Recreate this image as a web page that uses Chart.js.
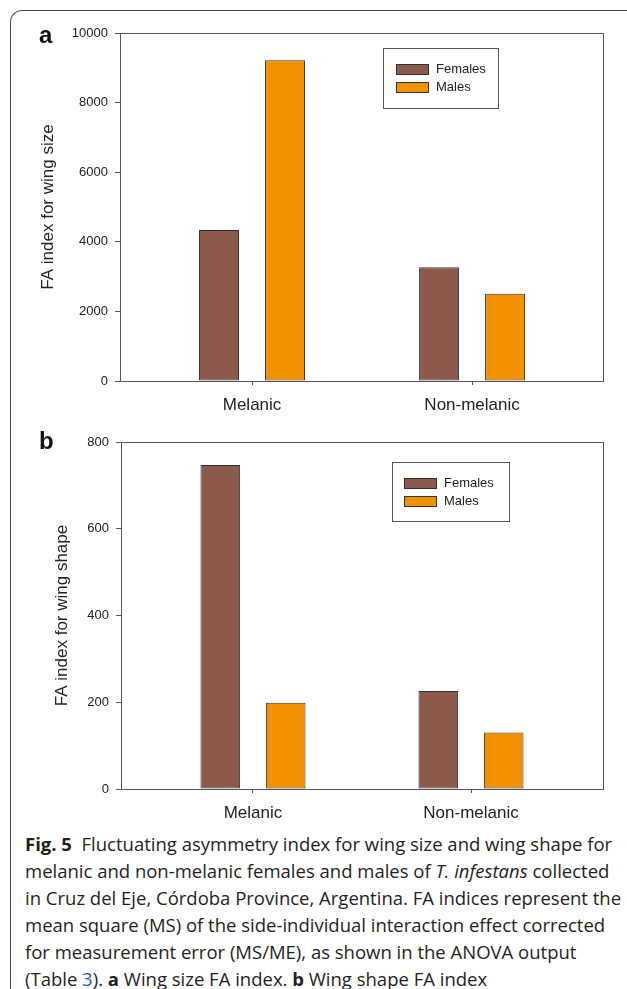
<!DOCTYPE html>
<html>
<head>
<meta charset="utf-8">
<script src="https://cdn.jsdelivr.net/npm/chart.js@4/dist/chart.umd.min.js"></script>
<style>
  body { margin: 0; background: #fff; width: 627px; height: 989px; overflow: hidden; position: relative; }
  #frame { position: absolute; left: 10px; top: 10px; width: 660px; height: 1000px;
           border-left: 1px solid #444; border-top: 1px solid #444; border-top-left-radius: 12px; }
  canvas { position: absolute; left: 0; }
  .panel { position: absolute; left: 39px; font: bold 24px "Liberation Sans", Arial, sans-serif; color: #111; }
  #caption { position: absolute; left: 25px; top: 830px; font-family: "Open Sans", sans-serif;
             font-size: 18.5px; line-height: 27px; color: #231f20; white-space: nowrap; }
  #caption a { color: #2a5db0; text-decoration: none; }
</style>
</head>
<body>
<div id="frame"></div>
<canvas id="chartA" width="627" height="425" style="top:0"></canvas>
<canvas id="chartB" width="627" height="405" style="top:425px"></canvas>
<div class="panel" style="top:21px">a</div>
<div class="panel" style="top:427px">b</div>
<div id="caption">
  <b>Fig. 5</b>&nbsp; Fluctuating asymmetry index for wing size and wing shape for<br>
  melanic and non-melanic females and males of <i>T. infestans</i> collected<br>
  in Cruz del Eje, Córdoba Province, Argentina. FA indices represent the<br>
  mean square (MS) of the side-individual interaction effect corrected<br>
  for measurement error (MS/ME), as shown in the ANOVA output<br>
  (Table <a>3</a>). <b>a</b> Wing size FA index. <b>b</b> Wing shape FA index
</div>
<script>
// Chart data
const categories = ['Melanic', 'Non-melanic'];
const seriesNames = ['Females', 'Males'];
const seriesColors = ['#8c5a4a', '#f39200'];

const sizeFemales = [4340, 3270];
const sizeMales = [9220, 2510];
const sizeTicks = { max: 10000, step: 2000 };

const shapeFemales = [747, 226];
const shapeMales = [199, 130];
const shapeTicks = { max: 800, step: 200 };

const FONT = '"Liberation Sans", Arial, sans-serif';

// Plot frame (all four sides) and the boxed legend
const framePlugin = {
    id: 'plotFrame',
    afterDatasetsDraw(chart, args, opts) {
        const ctx = chart.ctx;
        const a = chart.chartArea;
        ctx.save();
        ctx.strokeStyle = '#555';
        ctx.lineWidth = 1;
        ctx.strokeRect(Math.round(a.left) + 0.5, Math.round(a.top) + 0.5,
            Math.round(a.right - a.left), Math.round(a.bottom - a.top));

        // legend box
        const x = Math.round(a.left + opts.x), y = Math.round(a.top + opts.y);
        ctx.strokeRect(x + 0.5, y + 0.5, opts.w, opts.h);
        chart.data.datasets.forEach((ds, i) => {
            const sy = y + 16 + i * 18;
            ctx.fillStyle = ds.backgroundColor;
            ctx.fillRect(x + opts.sx, sy, 32, 10);
            ctx.strokeStyle = '#333';
            ctx.strokeRect(x + opts.sx + 0.5, sy + 0.5, 32, 10);
            ctx.fillStyle = '#222';
            ctx.font = '13px ' + FONT;
            ctx.textBaseline = 'middle';
            ctx.textAlign = 'left';
            ctx.fillText(ds.label, x + opts.tx, sy + 5.5);
        });
        ctx.restore();
    }
};

function makeDatasets(females, males) {
    return [females, males].map((vals, i) => ({
        label: seriesNames[i],
        data: vals.map((v, j) => ({ x: j + 1, y: v })),
        backgroundColor: seriesColors[i],
        borderColor: '#333',
        borderWidth: 1,
        borderSkipped: false,
        categoryPercentage: 0.6,
        barPercentage: 0.606
    }));
}

function createPanel(canvasId, females, males, yInfo, yTitle, layout) {
    const ctx = document.getElementById(canvasId).getContext('2d');
    return new Chart(ctx, {
        type: 'bar',
        data: { datasets: makeDatasets(females, males) },
        plugins: [framePlugin],
        options: {
            responsive: false,
            animation: false,
            layout: { padding: { top: layout.top, right: 24, left: 0, bottom: 0 } },
            plugins: {
                legend: { display: false },
                tooltip: { enabled: false },
                plotFrame: layout.legend
            },
            scales: {
                x: {
                    type: 'linear',
                    offset: false,
                    min: layout.xMin,
                    max: layout.xMax,
                    afterBuildTicks: scale => {
                        scale.ticks = categories.map((c, i) => ({ value: i + 1 }));
                    },
                    afterFit: scale => { scale.height = layout.xHeight; },
                    ticks: {
                        callback: v => categories[Math.round(v) - 1],
                        font: { family: FONT, size: 17 },
                        color: '#222',
                        padding: 10,
                        maxRotation: 0,
                        autoSkip: false
                    },
                    grid: { offset: false, drawOnChartArea: false, tickLength: 4, color: '#555' },
                    border: { color: '#555' }
                },
                y: {
                    min: 0,
                    max: yInfo.max,
                    afterFit: scale => { scale.width = layout.yWidth; },
                    ticks: {
                        stepSize: yInfo.step,
                        callback: v => String(v),
                        font: { family: FONT, size: 13 },
                        color: '#222',
                        padding: 7
                    },
                    grid: { drawOnChartArea: false, tickLength: 5, color: '#555' },
                    border: { color: '#555' },
                    title: {
                        display: true,
                        text: yTitle,
                        font: { family: FONT, size: 17 },
                        color: '#222',
                        padding: { top: layout.titlePad, bottom: 0 }
                    }
                }
            }
        }
    });
}

createPanel('chartA', sizeFemales, sizeMales, sizeTicks, 'FA index for wing size', {
    top: 33, xHeight: 44, yWidth: 120, xMin: 0.4, xMax: 2.595, titlePad: 38,
    legend: { x: 263, y: 15, w: 115, h: 60, sx: 13, tx: 53 }
});

createPanel('chartB', shapeFemales, shapeMales, shapeTicks, 'FA index for wing shape', {
    top: 17, xHeight: 41, yWidth: 121, xMin: 0.3945, xMax: 2.6055, titlePad: 52,
    legend: { x: 271, y: 20, w: 117, h: 59, sx: 12, tx: 52 }
});
</script>
</body>
</html>
